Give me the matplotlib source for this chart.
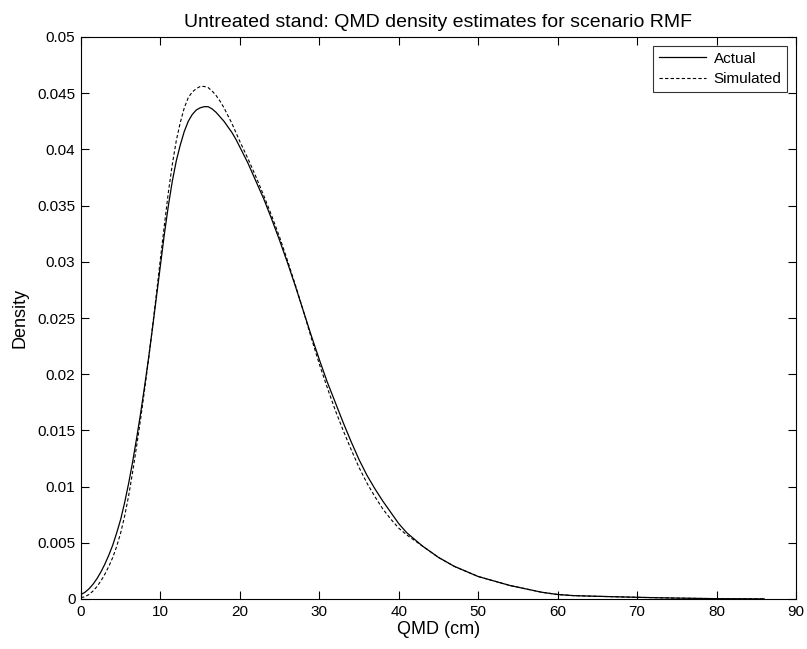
import numpy as np
import matplotlib.pyplot as plt

# QMD grid (cm) and density values
qmd = [0, 0.5, 1, 1.5, 2, 2.5, 3, 3.5, 4, 4.5, 5, 5.5, 6, 6.5, 7, 7.5, 8, 8.5,
       9, 9.5, 10, 10.5, 11, 11.5, 12, 12.5, 13, 13.5, 14, 14.5, 15, 15.5,
       16, 16.5, 17, 17.5, 18, 18.5, 19, 19.5, 20,
       21, 22, 23, 24, 25, 26, 27, 28, 29, 30, 31, 32, 33, 34, 35, 36, 37,
       38, 39, 40, 41, 42, 43, 44, 45, 46, 47, 48, 49, 50,
       52, 54, 56, 58, 60, 62, 65, 70, 75, 80, 86]

actual = [0.0004, 0.0006, 0.0009, 0.0013, 0.0018, 0.0024, 0.0031, 0.0039,
          0.0048, 0.0059, 0.0071, 0.0086, 0.0103, 0.0122, 0.0143, 0.0165,
          0.0189, 0.0214, 0.0241, 0.0269, 0.0297, 0.0325, 0.0350, 0.0372,
          0.0390, 0.0404, 0.0416, 0.0425, 0.0431, 0.0435, 0.0437, 0.0438,
          0.0438, 0.0436, 0.0433, 0.0429, 0.0425, 0.0420, 0.0415, 0.0409,
          0.0402,
          0.0388, 0.0372, 0.0356, 0.0338, 0.0319, 0.0299, 0.0278, 0.0256,
          0.0234, 0.0213, 0.0193, 0.0175, 0.0157, 0.0140, 0.0124, 0.0110,
          0.0098, 0.0087, 0.0077, 0.0067, 0.0059, 0.0053, 0.0047, 0.0042,
          0.0037, 0.0033, 0.0029, 0.0026, 0.0023, 0.0020,
          0.0016, 0.0012, 0.0009, 0.0006, 0.0004, 0.0003, 0.00024, 0.00015,
          0.00008, 0.00003, 0.00001]

simulated = [0.00012, 0.0002, 0.0004, 0.0007, 0.0011, 0.0016, 0.0022, 0.0029,
             0.0037, 0.0047, 0.0059, 0.0074, 0.0092, 0.0113, 0.0136, 0.0160,
             0.0186, 0.0213, 0.0242, 0.0272, 0.0303, 0.0333, 0.0362, 0.0387,
             0.0408, 0.0424, 0.0437, 0.0446, 0.0451, 0.0454, 0.0456, 0.0456,
             0.0455, 0.0452, 0.0448, 0.0443, 0.0437, 0.0430, 0.0423, 0.0415,
             0.0407,
             0.0392, 0.0376, 0.0359, 0.0341, 0.0322, 0.0301, 0.0279, 0.0256,
             0.0232, 0.0209, 0.0188, 0.0168, 0.0150, 0.0133, 0.0117, 0.0103,
             0.0091, 0.0080, 0.0071, 0.0063, 0.0057, 0.0052, 0.0047, 0.0042,
             0.0037, 0.0033, 0.0029, 0.0026, 0.0023, 0.0020,
             0.0016, 0.0012, 0.0009, 0.0006, 0.0004, 0.0003, 0.00024, 0.00015,
             0.00008, 0.00003, 0.00001]

xticks = [0, 10, 20, 30, 40, 50, 60, 70, 80, 90]
yticks = [0, 0.005, 0.01, 0.015, 0.02, 0.025, 0.03, 0.035, 0.04, 0.045, 0.05]
ytick_labels = ['0', '0.005', '0.01', '0.015', '0.02', '0.025', '0.03',
                '0.035', '0.04', '0.045', '0.05']

plt.rcParams['font.family'] = ['Liberation Sans', 'DejaVu Sans']

fig = plt.figure(figsize=(8.07, 6.49), dpi=100)
ax = fig.add_axes([81 / 807, 1 - 599 / 649, (796 - 81) / 807, (599 - 37) / 649])

ax.plot(qmd, actual, color='black', lw=0.9, label='Actual')
ax.plot(qmd, simulated, color='black', lw=0.8, ls=(0, (3, 2)), label='Simulated')

ax.set_xlim(0, 90)
ax.set_ylim(0, 0.05)
ax.set_xticks(xticks)
ax.set_yticks(yticks)
ax.set_yticklabels(ytick_labels)
ax.tick_params(direction='in', length=6, width=0.8, labelsize=11,
               top=True, right=True, pad=4)
for s in ax.spines.values():
    s.set_linewidth(0.8)

ax.set_xlabel('QMD (cm)', fontsize=13, labelpad=2)
ax.set_ylabel('Density', fontsize=13, labelpad=6)
ax.set_title('Untreated stand: QMD density estimates for scenario RMF',
             fontsize=14, pad=7)

leg = ax.legend(loc='upper right', fontsize=11, frameon=True, fancybox=False,
                edgecolor='black', handlelength=3.1, borderaxespad=0.6,
                borderpad=0.35, labelspacing=0.45, handletextpad=0.5)
leg.get_frame().set_linewidth(0.8)

fig.savefig('out.png', dpi=100)
